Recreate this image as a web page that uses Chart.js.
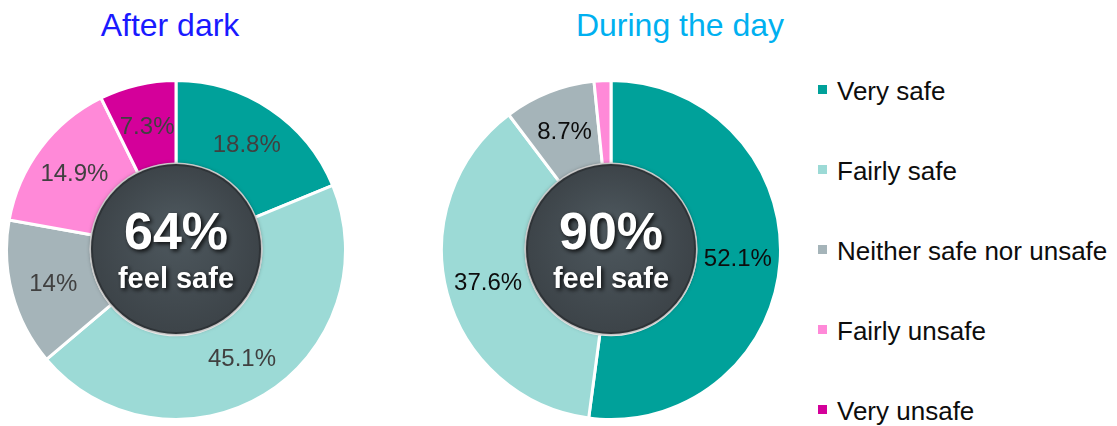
<!DOCTYPE html>
<html>
<head>
<meta charset="utf-8">
<script src="https://cdn.jsdelivr.net/npm/chart.js@4/dist/chart.umd.min.js"></script>
<style>
  body { margin: 0; background: #fff; font-family: "Liberation Sans", Arial, sans-serif; }
  #wrap { position: relative; width: 1117px; height: 426px; overflow: hidden; }
  canvas { position: absolute; }
  .title { position: absolute; top: 9px; width: 300px; text-align: center; font-size: 32px; line-height: 32px; }
  .legend-item { position: absolute; left: 818px; font-size: 26px; line-height: 26px; color: #0d0d0d; white-space: nowrap; }
  .legend-item span.box { position: absolute; left: 0; top: 7px; width: 9px; height: 9px; }
  .legend-item span.txt { position: absolute; left: 19px; top: 0; }
</style>
</head>
<body>
<div id="wrap">
  <div class="title" style="left:20px; color:#1a1aff;">After dark</div>
  <div class="title" style="left:530px; color:#00b0f0;">During the day</div>
  <canvas id="afterDark" width="342" height="342" style="left:5px; top:79px;"></canvas>
  <canvas id="duringDay" width="342" height="342" style="left:440px; top:79px;"></canvas>
  <div id="legend"></div>
</div>
<script>
const categories = ['Very safe', 'Fairly safe', 'Neither safe nor unsafe', 'Fairly unsafe', 'Very unsafe'];
const afterDarkValues = [18.8, 45.1, 14, 14.9, 7.3];
const duringDayValues = [52.1, 37.6, 8.7, 1.6, 0];
const feelSafe = ['64%', '90%'];
const colors = ['#00a19a', '#9cdad6', '#a5b4b9', '#ff89d8', '#d4009a'];

// legend built by hand so it can sit apart from the two rings
const legend = document.getElementById('legend');
categories.forEach((label, i) => {
  const item = document.createElement('div');
  item.className = 'legend-item';
  item.style.top = (78 + i * 80) + 'px';
  item.innerHTML = '<span class="box" style="background:' + colors[i] + '"></span><span class="txt">' + label + '</span>';
  legend.appendChild(item);
});

// percentage labels in the middle of each slice
const sliceLabels = {
  id: 'sliceLabels',
  afterDatasetsDraw(chart, args, opts) {
    const ctx = chart.ctx;
    const meta = chart.getDatasetMeta(0);
    const values = chart.data.datasets[0].data;
    ctx.save();
    ctx.font = '24px "Liberation Sans", Arial, sans-serif';
    ctx.fillStyle = opts.color;
    ctx.textAlign = 'center';
    ctx.textBaseline = 'middle';
    meta.data.forEach((arc, i) => {
      if (values[i] < 3) return;
      const pos = arc.tooltipPosition();
      ctx.fillText(values[i] + '%', pos.x, pos.y + 1);
    });
    ctx.restore();
  }
};

// dark disc in the centre with the headline figure
const centreDisc = {
  id: 'centreDisc',
  afterDraw(chart, args, opts) {
    const ctx = chart.ctx;
    const a = chart.chartArea;
    const cx = (a.left + a.right) / 2;
    const cy = (a.top + a.bottom) / 2 - 1;
    const r = 85;
    ctx.save();
    ctx.beginPath();
    ctx.arc(cx, cy, r + 1.5, 0, Math.PI * 2);
    ctx.fillStyle = '#f2f2f2';
    ctx.fill();
    ctx.shadowColor = 'rgba(0,0,0,0.5)';
    ctx.shadowBlur = 4;
    ctx.beginPath();
    ctx.arc(cx, cy, r, 0, Math.PI * 2);
    ctx.fillStyle = '#2e3337';
    ctx.fill();
    ctx.shadowColor = 'transparent';
    const g = ctx.createRadialGradient(cx, cy - 20, 10, cx, cy, r - 2);
    g.addColorStop(0, '#4c565c');
    g.addColorStop(1, '#3d4449');
    ctx.beginPath();
    ctx.arc(cx, cy, r - 2, 0, Math.PI * 2);
    ctx.fillStyle = g;
    ctx.fill();

    ctx.fillStyle = '#ffffff';
    ctx.textAlign = 'center';
    ctx.textBaseline = 'alphabetic';
    ctx.shadowColor = 'rgba(0,0,0,0.85)';
    ctx.shadowBlur = 4;
    ctx.shadowOffsetX = 2;
    ctx.shadowOffsetY = 2;
    ctx.font = 'bold 52px "Liberation Sans", Arial, sans-serif';
    ctx.fillText(opts.big, cx, cy);
    ctx.font = 'bold 29px "Liberation Sans", Arial, sans-serif';
    ctx.fillText('feel safe', cx, cy + 39);
    ctx.restore();
  }
};

function makeChart(id, values, big, labelColor) {
  return new Chart(document.getElementById(id), {
    type: 'doughnut',
    data: {
      labels: categories,
      datasets: [{
        data: values,
        backgroundColor: colors,
        borderColor: '#ffffff',
        borderWidth: 3
      }]
    },
    options: {
      responsive: false,
      animation: false,
      cutout: '50%',
      layout: { padding: 0 },
      plugins: {
        legend: { display: false },
        tooltip: { enabled: false },
        sliceLabels: { color: labelColor },
        centreDisc: { big: big }
      }
    },
    plugins: [sliceLabels, centreDisc]
  });
}

makeChart('afterDark', afterDarkValues, feelSafe[0], '#404040');
makeChart('duringDay', duringDayValues, feelSafe[1], '#0d0d0d');
</script>
</body>
</html>
